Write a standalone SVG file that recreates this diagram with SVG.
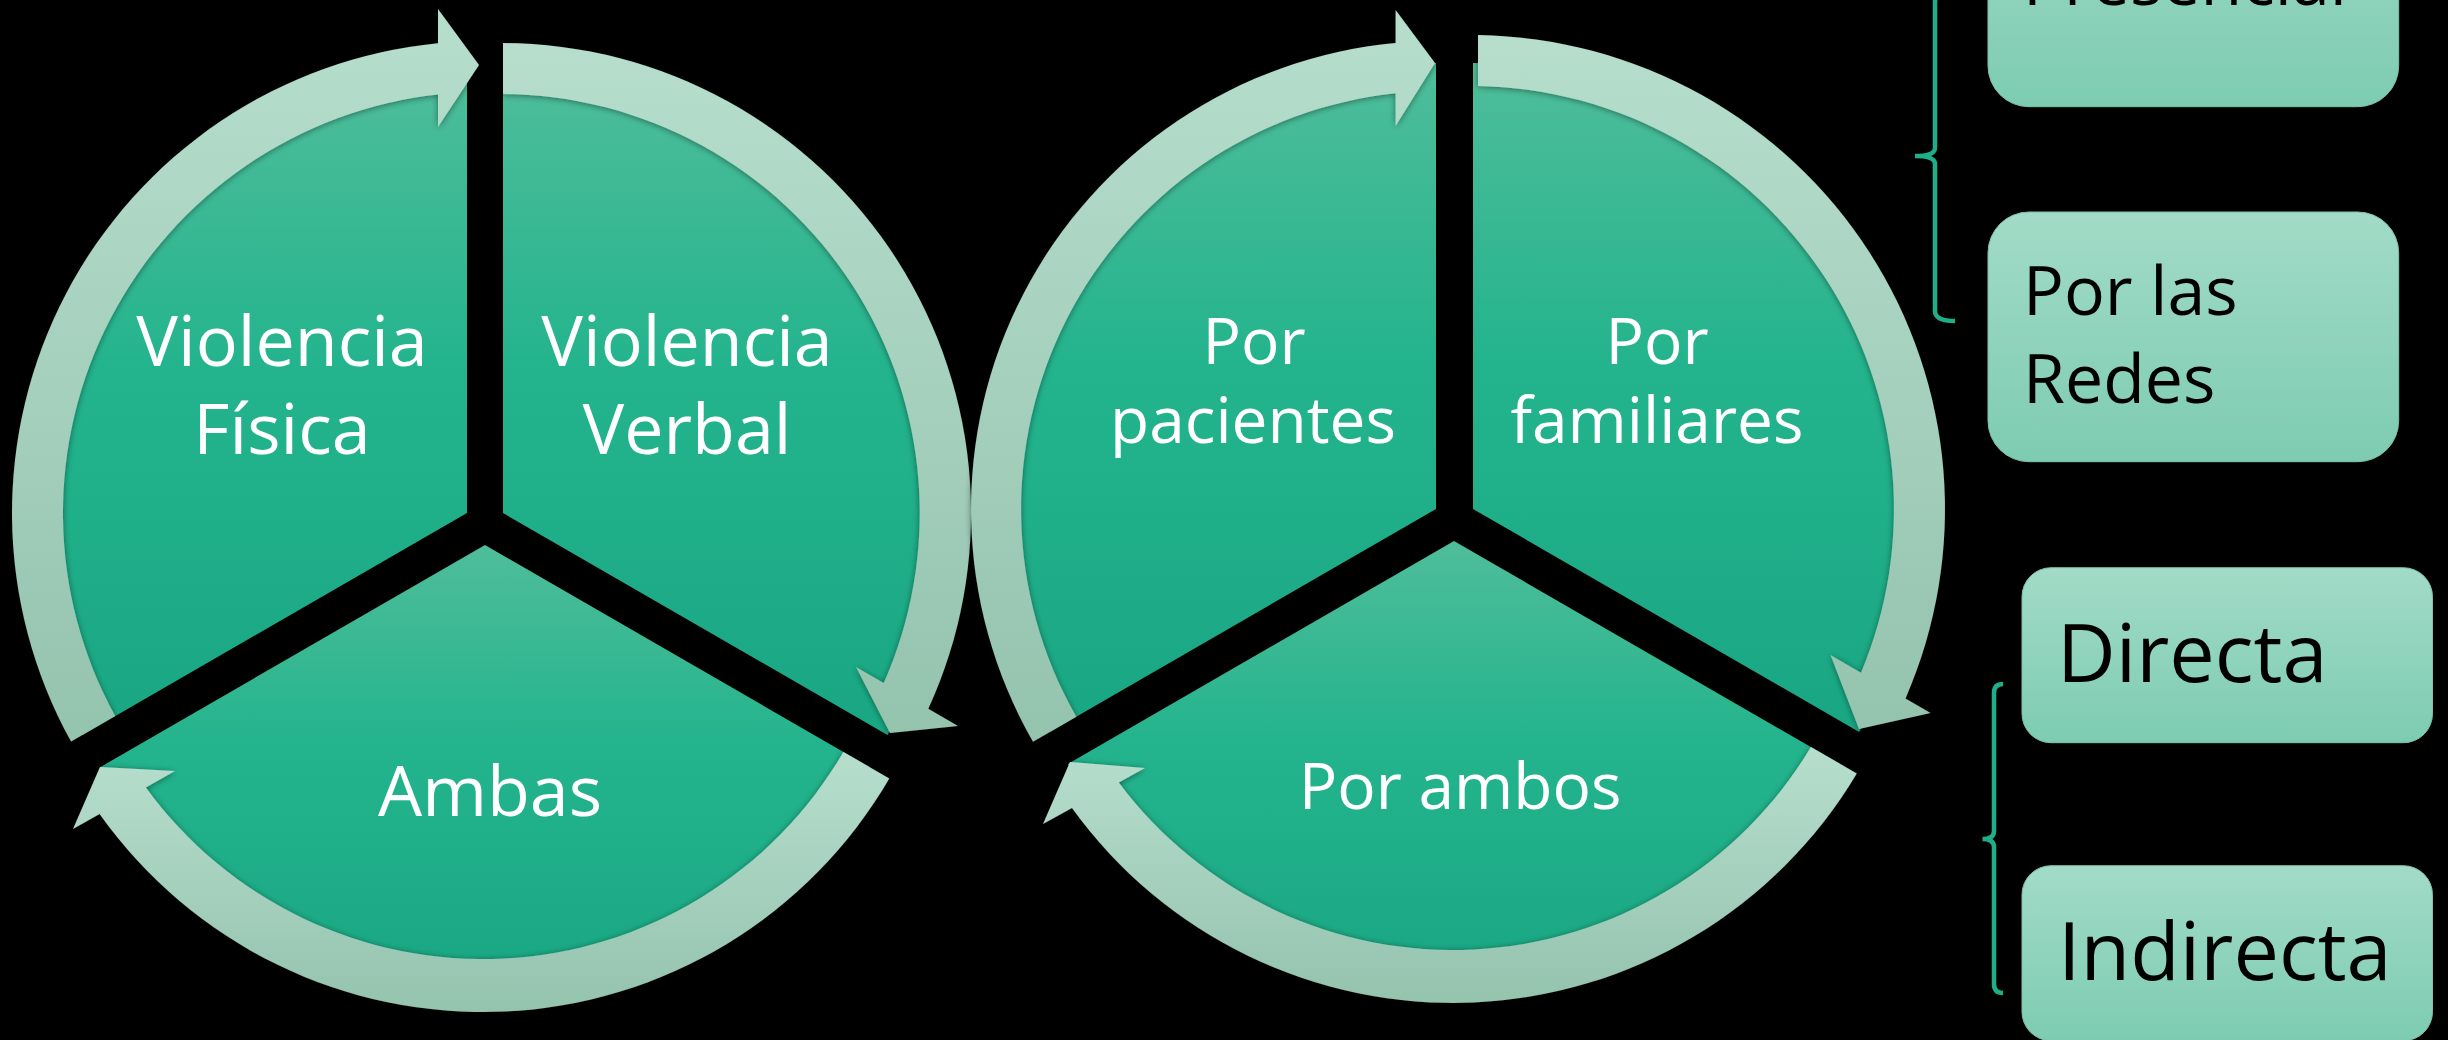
<svg xmlns="http://www.w3.org/2000/svg" width="2448" height="1040" viewBox="0 0 2448 1040">
  <defs>
    <linearGradient id="pieG" x1="0" y1="0" x2="0" y2="1">
      <stop offset="0" stop-color="#4fbd9a"/>
      <stop offset="0.45" stop-color="#23b48d"/>
      <stop offset="1" stop-color="#19a783"/>
    </linearGradient>
    <linearGradient id="ringG" x1="0" y1="0" x2="0" y2="1">
      <stop offset="0" stop-color="#b7decd"/>
      <stop offset="1" stop-color="#94c3ae"/>
    </linearGradient>
    <linearGradient id="boxG" x1="0" y1="0" x2="0" y2="1">
      <stop offset="0" stop-color="#a2dbc7"/>
      <stop offset="1" stop-color="#7dccb1"/>
    </linearGradient>
    <filter id="sh" x="-10%" y="-10%" width="120%" height="120%">
      <feDropShadow dx="0" dy="1" stdDeviation="3" flood-color="#000" flood-opacity="0.45"/>
    </filter>
    <style>
      .pie { fill: url(#pieG); }
      .ring { fill: url(#ringG); filter: url(#sh); }
      .box { fill: url(#boxG); stroke: #7cc3aa; stroke-width: 1; }
      .t1 { font-family: "Open Sans", "Noto Sans", sans-serif; font-size: 70px; fill: #ffffff; text-anchor: middle; }
      .t2 { font-family: "Open Sans", "Noto Sans", sans-serif; font-size: 64px; fill: #ffffff; text-anchor: middle; }
      .tb { font-family: "Open Sans", "Noto Sans", sans-serif; font-size: 68px; fill: #000000; }
      .tc { font-family: "Open Sans", "Noto Sans", sans-serif; font-size: 81px; fill: #000000; }
      .brace { fill: none; stroke: #20ae89; stroke-width: 4.5; stroke-linecap: butt; }
    </style>
  </defs>

  <rect x="0" y="0" width="2448" height="1040" fill="#000000"/>

  <!-- Cycle 1 -->
  <g id="node-violencia-fisica">
    <path class="pie" d="M 467 513 L 82.5 735 A 444 444 0 0 1 467 69 Z"/>
    <text class="t1" x="282" y="366">Violencia</text>
    <text class="t1" x="282" y="454">Física</text>
  </g>
  <g id="node-violencia-verbal">
    <path class="pie" d="M 503 513 L 503 69 A 444 444 0 0 1 887.5 735 Z"/>
    <text class="t1" x="687" y="366">Violencia</text>
    <text class="t1" x="687" y="454">Verbal</text>
  </g>
  <g id="node-ambas">
    <path class="pie" d="M 485 545 L 869.5 767 A 444 444 0 0 1 100.5 767 Z"/>
    <text class="t1" x="490" y="816">Ambas</text>
  </g>

  <!-- Cycle 2 -->
  <g id="node-por-pacientes">
    <path class="pie" d="M 1436 509 L 1049.8 732 A 446 446 0 0 1 1436 63 Z"/>
    <text class="t2" x="1254" y="364">Por</text>
    <text class="t2" x="1253" y="443">pacientes</text>
  </g>
  <g id="node-por-familiares">
    <path class="pie" d="M 1473 509 L 1473 63 A 446 446 0 0 1 1859.2 732 Z"/>
    <text class="t2" x="1657" y="364">Por</text>
    <text class="t2" x="1657" y="443">familiares</text>
  </g>
  <g id="node-por-ambos">
    <path class="pie" d="M 1454 541 L 1840.2 764 A 446 446 0 0 1 1067.8 764 Z"/>
    <text class="t2" x="1460" y="809">Por ambos</text>
  </g>

  <!-- Right-side boxes -->
  <g id="node-presencial">
    <rect class="box" x="1988" y="-143" width="410.7" height="249.7" rx="41" ry="41"/>
    <text class="tb" x="2023" y="5">Presencial</text>
  </g>
  <g id="node-por-las-redes">
    <rect class="box" x="1988" y="212" width="410.7" height="249.7" rx="41" ry="41"/>
    <text class="tb" x="2023" y="315">Por las</text>
    <text class="tb" x="2023" y="403">Redes</text>
  </g>
  <g id="node-directa">
    <rect class="box" x="2022" y="567.7" width="410.5" height="175" rx="29" ry="29"/>
    <text class="tc" x="2057" y="682">Directa</text>
  </g>
  <g id="node-indirecta">
    <rect class="box" x="2022" y="865.7" width="410.5" height="175" rx="29" ry="29"/>
    <text class="tc" x="2058" y="980">Indirecta</text>
  </g>

  <!-- Connectors: circular arrows and braces -->
  <g id="connectors">
    <path class="ring" d="M 71.1 741.6 A 472 472 0 0 1 438 43.2 L 438 9 L 479 65 L 438 127 L 438 94.5 A 421 421 0 0 0 115.2 716.1 Z"/>
    <path class="ring" d="M 503 43 A 470 470 0 0 1 928.3 708.8 L 958 726 L 890 733 L 856 667 L 883.7 683 A 419 419 0 0 0 503 94 Z"/>
    <path class="ring" d="M 889.3 778.4 A 470 470 0 0 1 99.6 813.9 L 73 829 L 100 767 L 175 771 L 145.9 787.5 A 417 417 0 0 0 843.4 751.9 Z"/>

    <path class="ring" d="M 1033 741.7 A 468 468 0 0 1 1395.6 43 L 1395.6 10 L 1435 63 L 1395.6 126 L 1395.6 93.3 A 418 418 0 0 0 1076.3 716.7 Z"/>
    <path class="ring" d="M 1478 35.1 A 474 474 0 0 1 1905.5 698.4 L 1930.6 713 L 1859 729 L 1830.5 655 L 1861 672.7 A 423 423 0 0 0 1478 86.1 Z"/>
    <path class="ring" d="M 1856.8 773.5 A 470 470 0 0 1 1072 808.1 L 1043 824 L 1070 762 L 1145 768 L 1118.8 782.4 A 417 417 0 0 0 1810.9 747 Z"/>

    <path class="brace" d="M 1955 -10 Q 1935 -10 1935 2 L 1935 148 Q 1935 156 1915 156 Q 1935 156 1935 164 L 1935 311 Q 1935 321 1955 321"/>
    <path class="brace" d="M 2003 684 Q 1994 684 1994 693 L 1994 831 Q 1994 839 1982.5 839 Q 1994 839 1994 847 L 1994 984 Q 1994 993 2003 993"/>
  </g>
</svg>
